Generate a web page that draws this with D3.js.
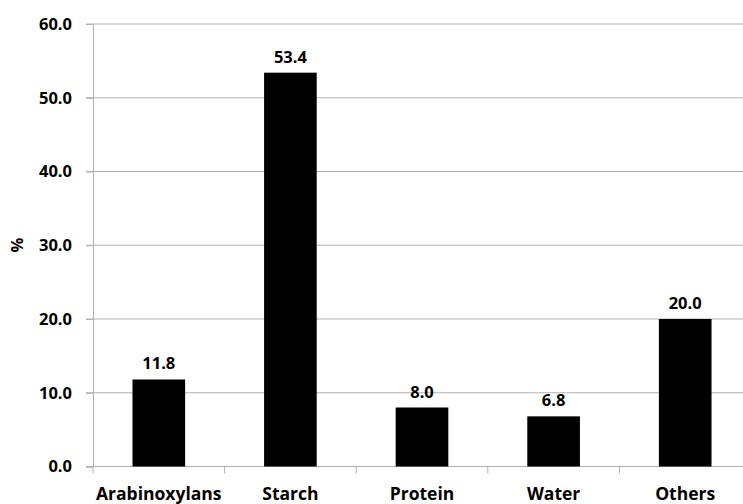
<!DOCTYPE html>
<html><head><meta charset="utf-8">
<script src="https://cdn.jsdelivr.net/npm/d3@7"></script>
<style>body{margin:0;background:#fff}svg{display:block}text{font-family:"Open Sans",sans-serif;font-weight:bold;fill:#000}</style>
</head><body><svg id="c" width="743" height="504"></svg>
<script>
const categories = ["Arabinoxylans","Starch","Protein","Water","Others"];
const values = [11.8,53.4,8.0,6.8,20.0];
const yTicks = [0,10,20,30,40,50,60];

const svg = d3.select("#c");
const x = d3.scaleBand().domain(categories).range([93,751]).paddingInner(0.6).paddingOuter(0.3);
const y = d3.scaleLinear().domain([0,60]).range([466.5,24]);

// gridlines
svg.append("g").selectAll("line").data(yTicks).join("line")
  .attr("x1",86).attr("x2",751).attr("y1",d=>y(d)).attr("y2",d=>y(d))
  .attr("stroke","#b0b0b0").attr("stroke-width",1);

// y axis
const ya = svg.append("g").attr("transform","translate(93,0)")
  .call(d3.axisLeft(y).tickValues(yTicks).tickFormat(d3.format(".1f")).tickSize(7).tickPadding(14));
ya.select(".domain").attr("stroke","#b0b0b0");
ya.selectAll(".tick line").attr("stroke","#b0b0b0");
ya.selectAll("text").attr("font-size",16.5).attr("font-family","Open Sans").attr("font-weight","bold");

// x axis
const step = x.step();
const bounds = d3.range(0,categories.length+1).map(i=>93+i*step);
const xa = svg.append("g");
xa.append("line").attr("x1",93).attr("x2",751).attr("y1",y(0)).attr("y2",y(0)).attr("stroke","#b0b0b0");
xa.selectAll(".tk").data(bounds).join("line").attr("class","tk")
  .attr("x1",d=>d).attr("x2",d=>d).attr("y1",y(0)).attr("y2",y(0)+7).attr("stroke","#b0b0b0");
xa.selectAll("text").data(categories).join("text")
  .attr("x",d=>x(d)+x.bandwidth()/2).attr("y",500).attr("text-anchor","middle")
  .attr("font-size",17.5).text(d=>d);

// bars
svg.append("g").selectAll("rect").data(values).join("rect")
  .attr("x",(d,i)=>x(categories[i])).attr("width",x.bandwidth())
  .attr("y",d=>y(d)).attr("height",d=>y(0)-y(d)).attr("fill","#000");

// value labels
svg.append("g").selectAll("text").data(values).join("text")
  .attr("x",(d,i)=>x(categories[i])+x.bandwidth()/2).attr("y",d=>y(d)-10)
  .attr("text-anchor","middle").attr("font-size",16.5).text(d=>d3.format(".1f")(d));

// y title
svg.append("text").attr("transform","translate(23,245) rotate(-90)")
  .attr("text-anchor","middle").attr("font-size",16.5).text("%");
</script></body></html>
